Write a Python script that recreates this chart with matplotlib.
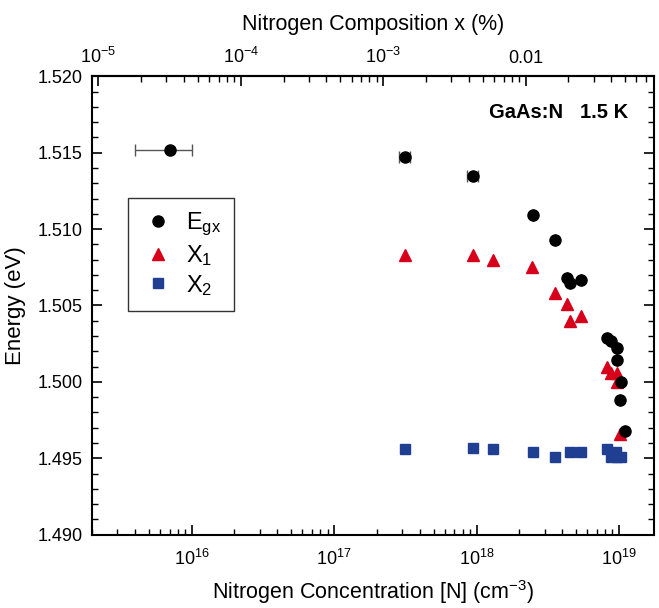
import matplotlib
matplotlib.use("Agg")
import matplotlib.pyplot as plt
from matplotlib.ticker import FixedLocator, FixedFormatter, LogLocator, MultipleLocator, NullFormatter
import numpy as np

plt.rcParams['font.family'] = ['Liberation Sans', 'DejaVu Sans']
plt.rcParams['mathtext.fontset'] = 'custom'
plt.rcParams['mathtext.rm'] = 'Liberation Sans'
plt.rcParams['mathtext.it'] = 'Liberation Sans'

# Egx - free exciton gap
egx_n = [7.0e15, 3.13e17, 9.46e17, 2.48e18, 3.57e18, 4.33e18, 4.53e18, 5.38e18,
         8.19e18, 8.79e18, 9.73e18, 9.64e18, 1.03e19, 1.02e19, 1.11e19]
egx_e = [1.5152, 1.5147, 1.5135, 1.5109, 1.5093, 1.5068, 1.5065, 1.5067,
         1.5029, 1.5027, 1.5022, 1.5014, 1.5000, 1.4988, 1.4968]
egx_err_lo = [3.0e15, 2.8e16, 8.5e16, 0, 0, 0, 0, 0, 0, 0, 0, 0, 0, 0, 0]
egx_err_hi = [3.0e15, 2.8e16, 8.5e16, 0, 0, 0, 0, 0, 0, 0, 0, 0, 0, 0, 0]

# X1
x1_n = [3.13e17, 9.46e17, 1.31e18, 2.46e18, 3.57e18, 4.33e18, 4.53e18, 5.38e18,
        8.19e18, 8.74e18, 9.73e18, 9.73e18, 1.02e19]
x1_e = [1.5083, 1.5083, 1.5080, 1.5075, 1.5058, 1.5051, 1.5040, 1.5043,
        1.5010, 1.5006, 1.5006, 1.5000, 1.4966]

# X2
x2_n = [3.13e17, 9.46e17, 1.31e18, 2.48e18, 3.57e18, 4.53e18, 5.38e18,
        8.19e18, 8.74e18, 9.53e18, 9.73e18, 1.03e19]
x2_e = [1.4956, 1.4957, 1.4956, 1.4954, 1.4951, 1.4954, 1.4954,
        1.4956, 1.4951, 1.4954, 1.4951, 1.4951]

top_ticks = [1e-5, 1e-4, 1e-3, 1e-2]
top_labels = [r'$10^{-5}$', r'$10^{-4}$', r'$10^{-3}$', '0.01']

AS_SITES = 2.21e22  # cm^-3

red = '#d7001b'
blue = '#203f92'

fig = plt.figure(figsize=(6.59, 6.08), dpi=100)
ax = fig.add_axes([0.1396, 0.1206, 0.8528, 0.7539])

ax.errorbar(egx_n, egx_e, xerr=[egx_err_lo, egx_err_hi], fmt='none',
            ecolor='#555555', elinewidth=1, capsize=4, zorder=2)
h_egx, = ax.plot(egx_n, egx_e, 'o', color='black', markersize=8, linestyle='none', zorder=3)
h_x1, = ax.plot(x1_n, x1_e, '^', color=red, markersize=9, linestyle='none', zorder=2)
h_x2, = ax.plot(x2_n, x2_e, 's', color=blue, markersize=7.5, linestyle='none', zorder=2)

ax.set_xscale('log')
ax.set_xlim(2e15, 1.76e19)
ax.set_ylim(1.490, 1.520)
ax.yaxis.set_major_locator(MultipleLocator(0.005))
ax.yaxis.set_minor_locator(MultipleLocator(0.001))
ax.yaxis.set_major_formatter(plt.FormatStrFormatter('%.3f'))
ax.xaxis.set_major_locator(FixedLocator([1e16, 1e17, 1e18, 1e19]))
ax.xaxis.set_minor_locator(LogLocator(base=10, subs=np.arange(2, 10)))
ax.xaxis.set_minor_formatter(NullFormatter())

ax.tick_params(which='both', direction='in', right=True, top=False, labelsize=13)
ax.tick_params(which='major', length=7, width=1.2)
ax.tick_params(which='minor', length=4, width=1)
ax.tick_params(axis='x', which='major', pad=10)
ax.tick_params(axis='y', which='major', pad=7)
for s in ax.spines.values():
    s.set_linewidth(1.5)

ax.set_xlabel(r'Nitrogen Concentration [N] (cm$^{-3}$)', fontsize=15.5, labelpad=7)
ax.set_ylabel('Energy (eV)', fontsize=16, labelpad=8)

top = ax.secondary_xaxis('top', functions=(lambda n: n / AS_SITES * 100,
                                            lambda x: x * AS_SITES / 100))
top.xaxis.set_major_locator(FixedLocator(top_ticks))
top.xaxis.set_major_formatter(FixedFormatter(top_labels))
top.xaxis.set_minor_locator(LogLocator(base=10, subs=np.arange(2, 10)))
top.xaxis.set_minor_formatter(NullFormatter())
top.tick_params(which='both', direction='in', labelsize=13)
top.tick_params(which='major', length=7, width=1.2, pad=7)
top.tick_params(which='minor', length=4, width=1)
top.spines['top'].set_linewidth(1.5)
top.set_xlabel('Nitrogen Composition x (%)', fontsize=15.5, labelpad=12)

ax.text(0.954, 0.92, 'GaAs:N   1.5 K', transform=ax.transAxes, ha='right', va='center',
        fontsize=14.5, fontweight='bold')

leg = ax.legend([h_egx, h_x1, h_x2], [r'E$_{\rm gx}$', r'X$_{\rm 1}$', r'X$_{\rm 2}$'],
                loc='upper left', bbox_to_anchor=(128 / 659, 1 - 198 / 608),
                bbox_transform=fig.transFigure, fontsize=17, frameon=True, fancybox=False,
                edgecolor='black', handletextpad=0.5, borderpad=0.55, labelspacing=0.2,
                handlelength=1.4, borderaxespad=0)
leg.get_frame().set_linewidth(1)

fig.savefig('out.png', dpi=100)
